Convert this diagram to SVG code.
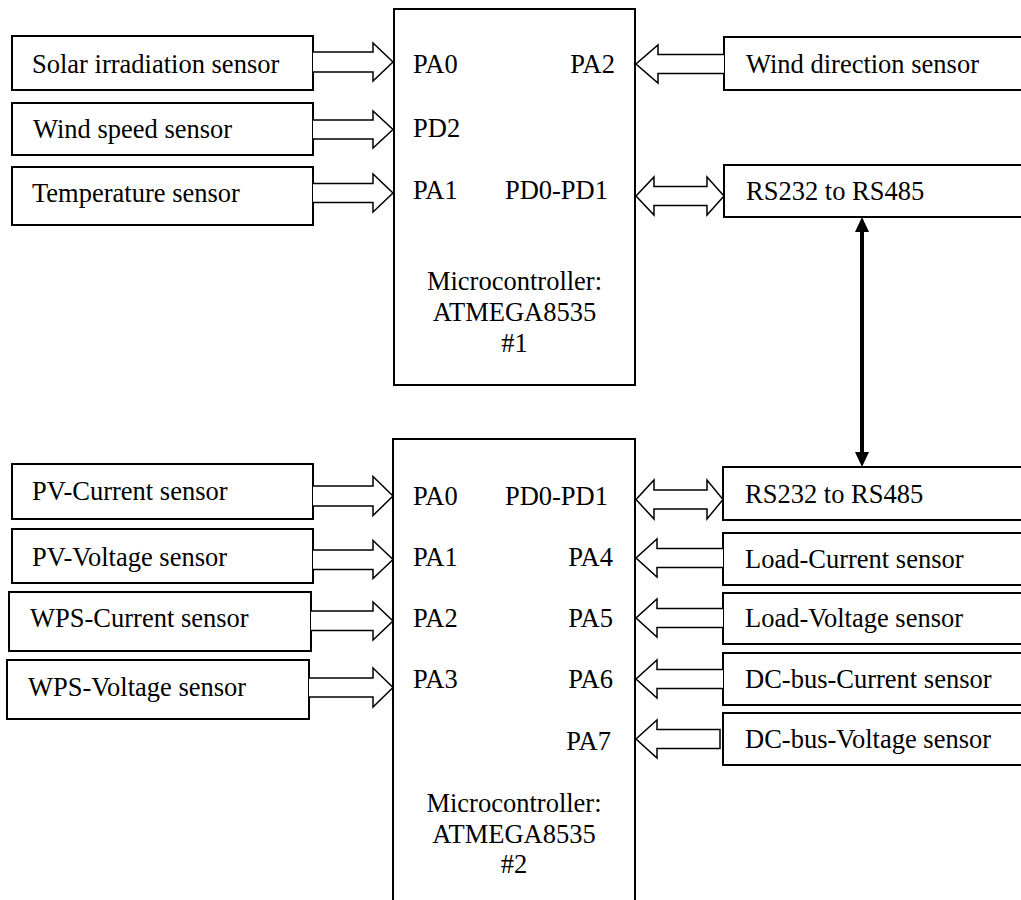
<svg xmlns="http://www.w3.org/2000/svg" width="1021" height="900" viewBox="0 0 1021 900">
<defs>
<style>
.box{fill:#fff;stroke:#000;stroke-width:2}
.arr{fill:#fff;stroke:#000;stroke-width:1.5;stroke-linejoin:miter}
text{font-family:"Liberation Serif","Times New Roman",serif;font-size:26.5px;fill:#000}
.e{text-anchor:end}
.m{text-anchor:middle}
</style>
<marker id="ah" viewBox="0 0 15 14" refX="0" refY="7" markerWidth="15" markerHeight="14" markerUnits="userSpaceOnUse" orient="auto-start-reverse">
<path d="M0,0 L15,7 L0,14 Z" fill="#000"/>
</marker>
</defs>
<rect width="1021" height="900" fill="#fff"/>

<g id="mcu1">
<rect class="box" x="394" y="9" width="241" height="376"/>
<text x="413" y="73">PA0</text>
<text x="413" y="137">PD2</text>
<text x="413" y="199">PA1</text>
<text class="e" x="615" y="73">PA2</text>
<text class="e" x="608" y="199">PD0-PD1</text>
<text class="m" x="514.5" y="290">Microcontroller:</text>
<text class="m" x="514.5" y="321">ATMEGA8535</text>
<text class="m" x="514.5" y="352">#1</text>
</g>

<g id="mcu2">
<rect class="box" x="393" y="439" width="242" height="480"/>
<text x="413" y="505">PA0</text>
<text x="413" y="566">PA1</text>
<text x="413" y="627">PA2</text>
<text x="413" y="688">PA3</text>
<text class="e" x="608" y="505">PD0-PD1</text>
<text class="e" x="613" y="566">PA4</text>
<text class="e" x="613" y="627">PA5</text>
<text class="e" x="613" y="688">PA6</text>
<text class="e" x="611" y="750">PA7</text>
<text class="m" x="514" y="812">Microcontroller:</text>
<text class="m" x="514" y="843">ATMEGA8535</text>
<text class="m" x="514" y="873">#2</text>
</g>

<g id="solar"><rect class="box" x="12" y="36" width="301" height="54"/><text x="32" y="72.7">Solar irradiation sensor</text></g>
<g id="windspeed"><rect class="box" x="12" y="103" width="301" height="52"/><text x="33" y="138">Wind speed sensor</text></g>
<g id="temperature"><rect class="box" x="12" y="167" width="301" height="58"/><text x="32" y="201.5">Temperature sensor</text></g>
<g id="winddir"><rect class="box" x="724" y="37" width="310" height="53"/><text x="746" y="73">Wind direction sensor</text></g>
<g id="rs1"><rect class="box" x="724" y="165" width="310" height="52"/><text x="746" y="200">RS232 to RS485</text></g>

<g id="pvcurrent"><rect class="box" x="12" y="464" width="301" height="55"/><text x="32" y="500">PV-Current sensor</text></g>
<g id="pvvoltage"><rect class="box" x="12" y="529" width="301" height="54"/><text x="32" y="566">PV-Voltage sensor</text></g>
<g id="wpscurrent"><rect class="box" x="9" y="592" width="302" height="59"/><text x="30" y="627">WPS-Current sensor</text></g>
<g id="wpsvoltage"><rect class="box" x="7" y="660" width="302" height="59"/><text x="28" y="696">WPS-Voltage sensor</text></g>

<g id="rs2"><rect class="box" x="723" y="467" width="310" height="53"/><text x="745" y="503">RS232 to RS485</text></g>
<g id="loadcurrent"><rect class="box" x="723" y="533" width="310" height="52"/><text x="745" y="568">Load-Current sensor</text></g>
<g id="loadvoltage"><rect class="box" x="723" y="593" width="310" height="51"/><text x="745" y="627">Load-Voltage sensor</text></g>
<g id="dccurrent"><rect class="box" x="723" y="653" width="310" height="52"/><text x="745" y="688">DC-bus-Current sensor</text></g>
<g id="dcvoltage"><rect class="box" x="723" y="713" width="310" height="52"/><text x="745" y="748">DC-bus-Voltage sensor</text></g>

<g id="connectors">
<!-- right-pointing block arrows into MCU1 -->
<path class="arr" d="M313,52 H373 V43 L393,62 L373,81 V72 H313"/>
<path class="arr" d="M313,120 H373 V111 L393,129.5 L373,148 V139 H313"/>
<path class="arr" d="M313,183.5 H373 V174 L393,193 L373,212 V202.5 H313"/>
<!-- wind direction into MCU1 -->
<path class="arr" d="M724,54.5 H658 V45 L636,64 L658,83 V73.5 H724"/>
<!-- PD0-PD1 double arrow top -->
<path class="arr" d="M654,186.5 V177 L636,196 L654,215 V205.5 H707 V215 L724,196 L707,177 V186.5 Z"/>
<!-- RS485 link -->
<line x1="862" y1="232" x2="862" y2="452" stroke="#000" stroke-width="4" marker-start="url(#ah)" marker-end="url(#ah)"/>
<!-- right-pointing arrows into MCU2 -->
<path class="arr" d="M313,486 H373 V476.5 L393,496 L373,515.5 V506 H313"/>
<path class="arr" d="M313,550 H373 V540.5 L393,559.5 L373,578.5 V569.5 H313"/>
<path class="arr" d="M311,611 H373 V602 L393,621 L373,640 V630.5 H311"/>
<path class="arr" d="M309,678 H373 V668 L393,687.5 L373,707 V697 H309"/>
<!-- PD0-PD1 double arrow bottom -->
<path class="arr" d="M654,490 V480 L636,499.5 L654,519 V509 H707 V519 L723,499.5 L707,480 V490 Z"/>
<!-- left-pointing arrows into MCU2 -->
<path class="arr" d="M723,548.5 H657 V539 L636,558 L657,577 V567.5 H723"/>
<path class="arr" d="M723,608.5 H657 V599 L636,618 L657,637 V627.5 H723"/>
<path class="arr" d="M723,669.5 H657 V660 L636,679 L657,698 V688.5 H723"/>
<path class="arr" d="M720,729.5 H657 V720 L636,739 L657,758 V748.5 H720 Z"/>
</g>
</svg>
